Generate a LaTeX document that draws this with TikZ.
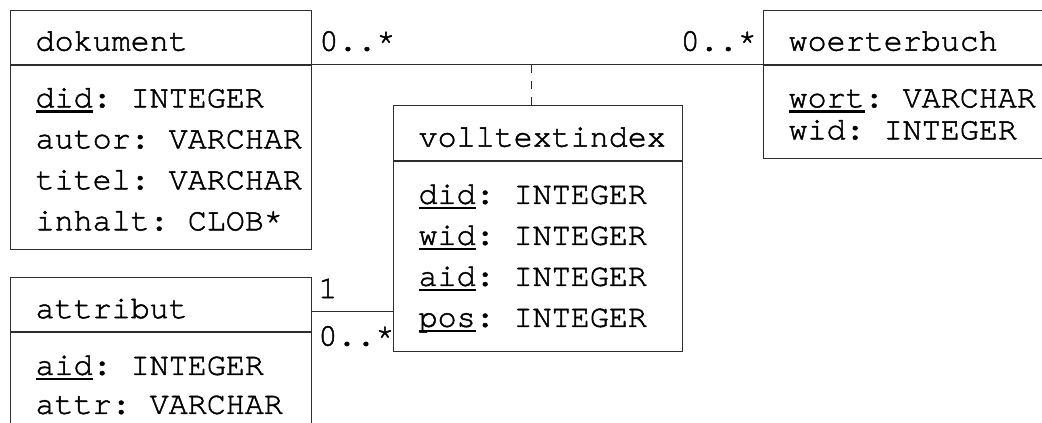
\documentclass[tikz,border=0pt]{standalone}
\usepackage{fontspec}
\setmonofont[FakeBold=1.5]{TeX Gyre Cursor}
\usetikzlibrary{positioning}
\definecolor{umlgray}{RGB}{45,45,45}
\newcommand{\pkey}[1]{\leavevmode\setbox0\hbox{#1}\rlap{\rule[-5.5pt]{\wd0}{2.4pt}}\box0}
\newcommand{\toprow}{\rule{0pt}{23pt}}
\newcommand{\fieldgap}{\hspace*{0.6em}}

\begin{document}
\begin{tikzpicture}[
    x=1pt,y=-1pt,
    umlfont/.style={font=\fontsize{31.7}{#1}\selectfont\ttfamily},
    clshead/.style={rectangle,draw=umlgray,line width=1.2pt,anchor=north west,text width=#1,align=left,
        inner xsep=25pt,inner ysep=0pt,minimum height=54pt,text height=27pt,text depth=0pt,umlfont=41},
    clsbody/.style={rectangle,draw=umlgray,line width=1.2pt,text width=#1,align=left,
        inner xsep=25pt,inner ysep=19pt},
    mult/.style={inner sep=0pt,umlfont=38},
    assoc/.style={draw=umlgray,line width=1.2pt},
    assocdash/.style={assoc,dash pattern=on 8.5pt off 7.5pt}
]
\useasboundingbox (0,0) rectangle (1042,423);
\clip (0,0) rectangle (1042,423);
% classes
\node[clshead=251pt] (dokh) at (10,9.5) {dokument};
\node[clsbody=251pt,umlfont=41,below=0pt of dokh] (dokb) {\toprow\pkey{did}:\fieldgap INTEGER\\autor:\fieldgap VARCHAR\\titel:\fieldgap VARCHAR\\inhalt:\fieldgap CLOB*};
\node[clshead=251pt] (woeh) at (763,9.5) {woerterbuch};
\node[clsbody=251pt,umlfont=32,below=0pt of woeh] (woeb) {\toprow\pkey{wort}:\fieldgap VARCHAR\\wid:\fieldgap INTEGER};
\node[clshead=239pt,minimum height=55pt] (vtih) at (393,105) {volltextindex};
\node[clsbody=239pt,umlfont=41,below=0pt of vtih] (vtib) {\toprow\pkey{did}:\fieldgap INTEGER\\\pkey{wid}:\fieldgap INTEGER\\\pkey{aid}:\fieldgap INTEGER\\\pkey{pos}:\fieldgap INTEGER};
\node[clshead=251pt] (atth) at (10,277) {attribut};
\node[clsbody=251pt,umlfont=39,below=0pt of atth] (attb) {\toprow\pkey{aid}:\fieldgap INTEGER\\attr:\fieldgap VARCHAR};
% associations
\draw[assoc] (dokh.south east) -- (woeh.south west);
\coordinate (mid) at ([xshift=219pt]dokh.south east);
\draw[assocdash] (mid) -- (mid |- vtih.north);
\coordinate (attlink) at ([yshift=-7pt]atth.east);
\draw[assoc] (attlink) -- (attlink -| vtih.west);
% multiplicities
\node[mult,anchor=base west] (m1) at ([xshift=7pt,yshift=14pt]dokh.south east) {0..*};
\node[mult,anchor=base east] (m2) at ([xshift=-6pt,yshift=14pt]woeh.south west) {0..*};
\node[mult,anchor=base west] (m3) at ([xshift=6pt,yshift=13.5pt]attlink) {1};
\node[mult,anchor=base west] (m4) at ([xshift=6pt,yshift=-34pt]attlink) {0..*};
\end{tikzpicture}
\end{document}
